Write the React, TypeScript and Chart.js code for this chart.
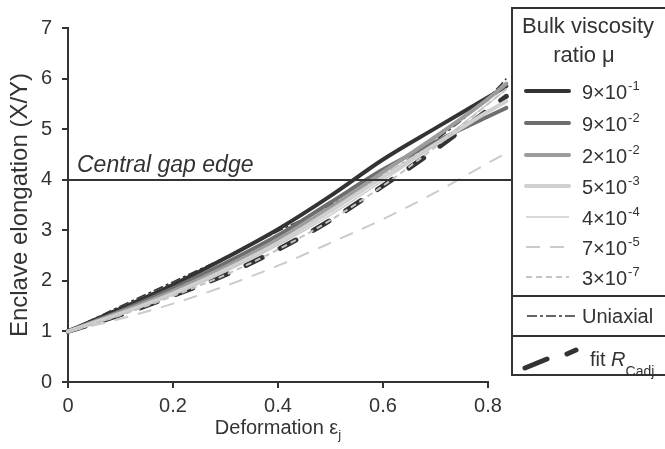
import React, { useEffect, useRef } from "react";
import { Chart, registerables } from "chart.js";
Chart.register(...registerables);

const deformation = [0, 0.1, 0.2, 0.3, 0.4, 0.5, 0.6, 0.7, 0.8, 0.835];
const mu9e1 = [1, 1.45, 1.92, 2.45, 3.02, 3.68, 4.4, 5.02, 5.63, 5.85];
const mu9e2 = [1, 1.4, 1.85, 2.35, 2.9, 3.55, 4.2, 4.75, 5.25, 5.42];
const mu2e2 = [1, 1.38, 1.8, 2.28, 2.82, 3.45, 4.15, 4.85, 5.6, 5.9];
const mu5e3 = [1, 1.35, 1.75, 2.22, 2.75, 3.38, 4.05, 4.7, 5.35, 5.55];
const mu4e4 = [1, 1.34, 1.72, 2.18, 2.7, 3.3, 3.98, 4.7, 5.5, 5.78];
const mu7e5 = [1, 1.25, 1.55, 1.9, 2.3, 2.75, 3.22, 3.75, 4.33, 4.53];
const mu3e7 = [1, 1.32, 1.7, 2.12, 2.62, 3.2, 3.88, 4.65, 5.5, 5.8];
const uniaxial = [1, 1.5, 1.98, 2.47, 2.98, 3.5, 4.08, 4.78, 5.62, 6.0];
const fitRCadj = [1, 1.33, 1.71, 2.12, 2.62, 3.2, 3.88, 4.6, 5.38, 5.65];

const xTickValues = [0, 0.2, 0.4, 0.6, 0.8];
const muMantissa = ["9×10", "9×10", "2×10", "5×10", "4×10", "7×10", "3×10"];
const muExponent = ["-1", "-2", "-2", "-3", "-4", "-5", "-7"];
const gapEdgeValue = 4;
const gapLabel = "Central gap edge";
const yTitle = "Enclave elongation (X/Y)";
const xTitle = "Deformation ε";
const xTitleSub = "j";
const legendTitle1 = "Bulk viscosity";
const legendTitle2 = "ratio μ";

const FONT = "'Liberation Sans', Arial, sans-serif";
const INK = "#333333";

type Style = { color: string; width: number; dash: number[]; cap: CanvasLineCap };
const styles: Style[] = [
  { color: "#333333", width: 4, dash: [], cap: "round" },
  { color: "#6e6e6e", width: 4, dash: [], cap: "round" },
  { color: "#9c9c9c", width: 4, dash: [], cap: "round" },
  { color: "#d0d0d0", width: 4, dash: [], cap: "round" },
  { color: "#cccccc", width: 1.5, dash: [], cap: "butt" },
  { color: "#cbcbcb", width: 2, dash: [14, 10], cap: "butt" },
  { color: "#c4c4c4", width: 2, dash: [6, 4], cap: "butt" },
];
const uniStyle: Style = { color: "#333333", width: 1.5, dash: [10, 3, 3, 3], cap: "butt" };
const fitStyle: Style = { color: "#333333", width: 5, dash: [18, 20], cap: "round" };

const series = [mu9e1, mu9e2, mu2e2, mu5e3, mu4e4, mu7e5, mu3e7];

function toPts(arr: number[]) {
  return deformation.map((x, i) => ({ x, y: arr[i] }));
}

function mkDataset(label: string, arr: number[], s: Style) {
  return {
    label,
    data: toPts(arr),
    borderColor: s.color,
    borderWidth: s.width,
    borderDash: s.dash,
    borderCapStyle: s.cap,
    pointRadius: 0,
    fill: false,
    cubicInterpolationMode: "monotone" as const,
    clip: false as const,
  };
}

const overlayPlugin = {
  id: "overlay",
  afterDraw(chart: any) {
    const ctx: CanvasRenderingContext2D = chart.ctx;
    const { chartArea, scales } = chart;
    const boxL = 512;
    const boxR = 667;
    const boxT = 8;
    const boxB = 375;
    ctx.save();
    // x axis line up to last tick
    const x0 = scales.x.getPixelForValue(0);
    const x1 = scales.x.getPixelForValue(xTickValues[xTickValues.length - 1]);
    const yb = Math.round(chartArea.bottom);
    ctx.strokeStyle = INK;
    ctx.lineWidth = 2;
    ctx.beginPath();
    ctx.moveTo(x0 - 1, yb);
    ctx.lineTo(x1 + 1, yb);
    ctx.stroke();

    // central gap edge
    const gy = Math.round(scales.y.getPixelForValue(gapEdgeValue));
    ctx.setLineDash([]);
    ctx.beginPath();
    ctx.moveTo(chartArea.left, gy);
    ctx.lineTo(boxL, gy);
    ctx.stroke();
    ctx.fillStyle = INK;
    ctx.font = `italic 23px ${FONT}`;
    ctx.textAlign = "left";
    ctx.textBaseline = "alphabetic";
    ctx.fillText(gapLabel, 77, gy - 8);

    // legend box
    ctx.fillStyle = "#ffffff";
    ctx.fillRect(boxL, boxT, boxR - boxL, boxB - boxT);
    ctx.strokeStyle = INK;
    ctx.lineWidth = 2;
    ctx.strokeRect(boxL, boxT, boxR - boxL, boxB - boxT);
    ctx.beginPath();
    ctx.moveTo(boxL, 296);
    ctx.lineTo(boxR, 296);
    ctx.moveTo(boxL, 336);
    ctx.lineTo(boxR, 336);
    ctx.stroke();

    ctx.fillStyle = INK;
    ctx.font = `22px ${FONT}`;
    ctx.textAlign = "center";
    ctx.fillText(legendTitle1, 588, 33);
    ctx.fillText(legendTitle2, 584, 62);

    const rowY = [91, 123, 155, 186, 217, 247, 277];
    styles.forEach((s, i) => {
      const y = rowY[i];
      ctx.strokeStyle = s.color;
      ctx.lineWidth = s.width;
      ctx.setLineDash(s.dash);
      ctx.lineCap = s.cap;
      ctx.beginPath();
      ctx.moveTo(526, y);
      ctx.lineTo(569, y);
      ctx.stroke();
      ctx.setLineDash([]);
      ctx.lineCap = "butt";
      ctx.fillStyle = INK;
      ctx.textAlign = "left";
      ctx.font = `20px ${FONT}`;
      ctx.fillText(muMantissa[i], 582, y + 8);
      const w = ctx.measureText(muMantissa[i]).width;
      ctx.font = `13px ${FONT}`;
      ctx.fillText(muExponent[i], 582 + w + 1, y - 1);
    });

    // uniaxial sample
    ctx.strokeStyle = uniStyle.color;
    ctx.lineWidth = uniStyle.width;
    ctx.setLineDash(uniStyle.dash);
    ctx.beginPath();
    ctx.moveTo(527, 316);
    ctx.lineTo(576, 316);
    ctx.stroke();
    ctx.setLineDash([]);
    ctx.fillStyle = INK;
    ctx.font = `20px ${FONT}`;
    ctx.fillText("Uniaxial", 582, 323);

    // fit sample (slanted dashes)
    ctx.strokeStyle = fitStyle.color;
    ctx.lineWidth = fitStyle.width;
    ctx.lineCap = "round";
    ctx.beginPath();
    ctx.moveTo(525, 368);
    ctx.lineTo(547, 359);
    ctx.moveTo(567, 354);
    ctx.lineTo(576, 350);
    ctx.stroke();
    ctx.lineCap = "butt";
    ctx.fillStyle = INK;
    ctx.font = `20px ${FONT}`;
    ctx.fillText("fit ", 590, 366);
    let x = 590 + ctx.measureText("fit ").width;
    ctx.font = `italic 20px ${FONT}`;
    ctx.fillText("R", x, 366);
    x += ctx.measureText("R").width;
    ctx.font = `14px ${FONT}`;
    ctx.fillText("Cadj", x, 376);

    // x title
    ctx.font = `20px ${FONT}`;
    const w1 = ctx.measureText(xTitle).width;
    ctx.font = `13px ${FONT}`;
    const w2 = ctx.measureText(xTitleSub).width;
    const cx = (x0 + x1) / 2;
    const tx = cx - (w1 + w2) / 2;
    ctx.font = `20px ${FONT}`;
    ctx.fillText(xTitle, tx, 434);
    ctx.font = `13px ${FONT}`;
    ctx.fillText(xTitleSub, tx + w1, 439);

    // y title
    ctx.translate(20, (chartArea.top + chartArea.bottom) / 2);
    ctx.rotate(-Math.PI / 2);
    ctx.font = `24px ${FONT}`;
    ctx.textAlign = "center";
    ctx.textBaseline = "middle";
    ctx.fillText(yTitle, 0, 0);
    ctx.restore();
  },
};

export default function App() {
  const ref = useRef<HTMLCanvasElement | null>(null);
  useEffect(() => {
    if (!ref.current) return;
    const datasets: any[] = [];
    series.forEach((arr, i) => {
      datasets.push(mkDataset(muMantissa[i] + muExponent[i], arr, styles[i]));
    });
    datasets.push(mkDataset("Uniaxial", uniaxial, uniStyle));
    datasets.push(mkDataset("fit RCadj", fitRCadj, fitStyle));
    // draw order: light ones underneath
    const order = [6, 5, 4, 3, 2, 1, 0, 7, 8];
    const ordered = order.map((k) => datasets[k]);
    const xMax = deformation[deformation.length - 1];
    const chart = new Chart(ref.current, {
      type: "line",
      data: { datasets: ordered },
      options: {
        animation: false,
        responsive: false,
        devicePixelRatio: 1,
        layout: { padding: { top: 28, right: 158.6, bottom: 0, left: 0 } },
        plugins: { legend: { display: false }, tooltip: { enabled: false } },
        scales: {
          x: {
            type: "linear",
            min: 0,
            max: xMax,
            afterFit: (s: any) => {
              s.height = 67;
            },
            afterBuildTicks: (s: any) => {
              s.ticks = xTickValues.map((v) => ({ value: v }));
            },
            ticks: {
              color: INK,
              padding: 6,
              font: { family: FONT, size: 20 },
              callback: (v: any) => String(Math.round(Number(v) * 10) / 10),
            },
            grid: { drawOnChartArea: false, drawTicks: true, tickLength: 6, color: INK, lineWidth: 2 },
            border: { display: false },
          },
          y: {
            type: "linear",
            min: 0,
            max: 7,
            afterFit: (s: any) => {
              s.width = 68;
            },
            ticks: {
              stepSize: 1,
              color: INK,
              padding: 10,
              font: { family: FONT, size: 20 },
            },
            grid: { drawOnChartArea: false, drawTicks: true, tickLength: 6, color: INK, lineWidth: 2 },
            border: { display: true, color: INK, width: 2 },
          },
        },
      },
      plugins: [overlayPlugin],
    });
    return () => chart.destroy();
  }, []);
  return (
    <div style={{ position: "absolute", left: 0, top: 0, width: 665, height: 449, background: "#fff" }}>
      <canvas ref={ref} width={665} height={449} style={{ display: "block" }} />
    </div>
  );
}
